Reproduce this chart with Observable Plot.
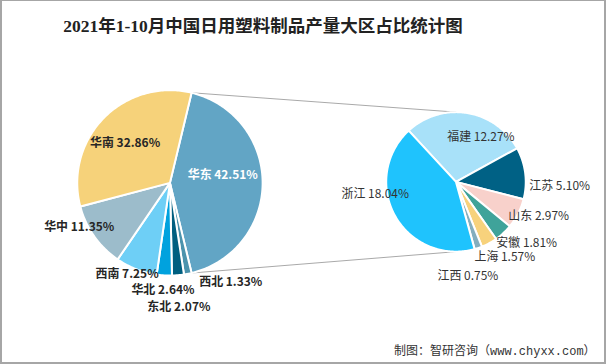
<!DOCTYPE html>
<html><head><meta charset="utf-8">
<script src="https://cdn.jsdelivr.net/npm/d3@7"></script>
<script src="https://cdn.jsdelivr.net/npm/@observablehq/plot@0.6"></script>
<style>
html,body{margin:0;padding:0;background:#fff;}
#wrap{position:relative;width:606px;height:364px;box-sizing:border-box;border-style:solid;border-color:#a6a6a6;border-width:1px 2px 2px 2px;overflow:hidden;}
#title{position:absolute;left:0;top:11px;width:522px;text-align:center;font:bold 17.5px "Liberation Serif","Noto Sans CJK SC",serif;color:#222;}
#foot{position:absolute;left:392px;top:340px;font:12px "Liberation Mono","Noto Sans CJK SC",monospace;color:#333;white-space:nowrap;}
#chart{position:absolute;left:-2px;top:-1px;}
</style></head>
<body><div id="wrap"><div id="chart"></div><div id="title">2021年1-10月中国日用塑料制品产量大区占比统计图</div><div id="foot">制图：智研咨询（www.chyxx.com）</div></div>
<script>
// Data (clockwise drawing order)
const leftNames = ["华东","西北","东北","华北","西南","华中","华南"];
const leftValues = [42.51,1.33,2.07,2.64,7.25,11.35,32.86];
const rightNames = ["福建","江苏","山东","安徽","上海","江西","浙江"];
const rightValues = [12.27,5.10,2.97,1.81,1.57,0.75,18.04];

// Styles / layout
const leftColors = ["#62a5c5","#4b93ad","#005f80","#00a2de","#6ecff6","#9cbccb","#f6d27a"];
const rightColors = ["#a8e1f9","#006185","#f8d1cb","#3fa39a","#f7d27c","#84aebe","#1fc3fd"];
const L = {cx:170, cy:183, r:93};
const R = {cx:457, cy:182, r:70};
const leftLabelOff = [[53,-8],[61,100],[9,125],[-7,108],[-43,92],[-91,44],[-45,-40]];
const rightLabelOff = [[25,-45],[104,4],[83,34],[71,61],[49,76],[12,95],[-81,12]];

const deg = Math.PI/180;
const lTotal = d3.sum(leftValues);
const lStart = Math.PI/2 - (leftValues[0]/lTotal)*Math.PI; // 华东 centered on the right
const rStart = -42.7*deg;

function slices(names, values, colors, pie, start, side){
  const arcs = d3.pie().sort(null).startAngle(start).endAngle(start+2*Math.PI)(values);
  const pts = [];
  arcs.forEach((a,i)=>{
    const key = side+i;
    pts.push({key, color:colors[i], x:pie.cx, y:pie.cy});
    const n = Math.max(2, Math.ceil((a.endAngle-a.startAngle)/deg));
    for(let k=0;k<=n;k++){
      const t = a.startAngle + (a.endAngle-a.startAngle)*k/n;
      pts.push({key, color:colors[i], x:pie.cx+pie.r*Math.sin(t), y:pie.cy-pie.r*Math.cos(t)});
    }
    pts.push({key, color:colors[i], x:pie.cx, y:pie.cy});
  });
  return {arcs, pts};
}
const left = slices(leftNames,leftValues,leftColors,L,lStart,"L");
const right = slices(rightNames,rightValues,rightColors,R,rStart,"R");

const fmt = v => v.toFixed(2)+"%";
const leftLabels = leftNames.map((n,i)=>({text:n+" "+fmt(leftValues[i]), x:L.cx+leftLabelOff[i][0], y:L.cy+leftLabelOff[i][1], fill: i===0?"#ffffff":"#262626"}));
const rightLabels = rightNames.map((n,i)=>({text:n+" "+fmt(rightValues[i]), x:R.cx+rightLabelOff[i][0], y:R.cy+rightLabelOff[i][1]}));

// connector lines: from 华东 slice edges to top/bottom of the breakdown pie
const a0 = left.arcs[0].startAngle, a1 = left.arcs[0].endAngle;
const connectors = [
  {id:"top", x:L.cx+L.r*Math.sin(a0), y:L.cy-L.r*Math.cos(a0)},
  {id:"top", x:R.cx, y:R.cy-R.r},
  {id:"bot", x:L.cx+L.r*Math.sin(a1), y:L.cy-L.r*Math.cos(a1)},
  {id:"bot", x:R.cx, y:R.cy+R.r}
];

const chart = Plot.plot({
  width:606, height:365, margin:0,
  x:{domain:[0,606], range:[0,606], axis:null},
  y:{domain:[0,365], range:[0,365], axis:null},
  color:{type:"identity"},
  style:{background:"transparent"},
  marks:[
    Plot.line(connectors,{x:"x", y:"y", z:"id", stroke:"#a9a9a9", strokeWidth:1}),
    Plot.line(left.pts,{x:"x", y:"y", z:"key", fill:"color", stroke:"#ffffff", strokeWidth:2, strokeLinejoin:"round"}),
    Plot.line(right.pts,{x:"x", y:"y", z:"key", fill:"color", stroke:"#ffffff", strokeWidth:2, strokeLinejoin:"round"}),
    Plot.text(leftLabels,{x:"x", y:"y", text:"text", fill:"fill", fontSize:12, fontWeight:"bold", fontFamily:"'Noto Sans CJK SC',sans-serif", textAnchor:"middle"}),
    Plot.text(rightLabels,{x:"x", y:"y", text:"text", fill:"#333333", fontSize:12, fontFamily:"'Noto Sans CJK SC',sans-serif", textAnchor:"middle"})
  ]
});
document.getElementById("chart").appendChild(chart);
</script>
</body></html>
